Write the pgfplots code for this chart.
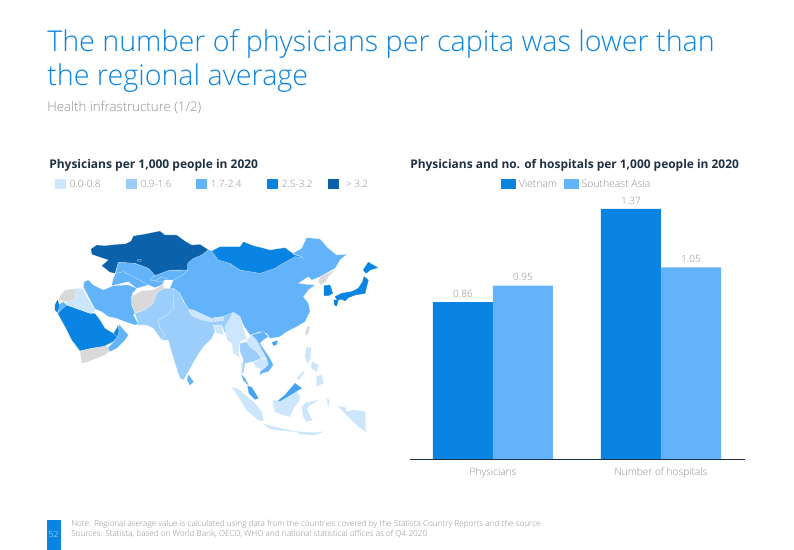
\documentclass[border=0pt]{standalone}
\usepackage{pgfplots}
\pgfplotsset{compat=1.18}
\usepackage{fontspec}
\setmainfont{Open Sans}
\newfontfamily\osl{Open Sans Light}
\definecolor{cA}{HTML}{CCE6FD}
\definecolor{cB}{HTML}{9CCEFC}
\definecolor{cC}{HTML}{62B3FA}
\definecolor{cD}{HTML}{0984E3}
\definecolor{cE}{HTML}{0B62AB}
\definecolor{cG}{HTML}{D9D9D9}
\colorlet{cF}{cC!65!cD}
\definecolor{txt}{HTML}{8E8E8E}
\definecolor{head}{HTML}{1F3044}
\newcommand{\reg}[2]{\addplot[fill=#1,draw=white,draw opacity=.6,line width=.15pt,line join=round,no markers] coordinates {#2} -- cycle;}
\newcommand{\isl}[2]{\addplot[fill=#1,draw=#1,line width=.2pt,line join=round,no markers] coordinates {#2} -- cycle;}
\newcommand{\bord}[1]{\addplot[draw=white,draw opacity=.7,line width=.25pt,no markers] coordinates {#1};}
\newcommand{\px}[2]{({(#1)*0.75pt},{(550-(#2))*0.75pt})}
\begin{document}
\begin{tikzpicture}[x=1pt,y=1pt]
\path (0,0) rectangle (595.5pt,412.5pt);
% titles
\node[anchor=base west,inner sep=0,text=cD,font=\osl\fontsize{21.5}{28}\selectfont] at \px{47}{52} {The number of physicians per capita was lower than};
\node[anchor=base west,inner sep=0,text=cD,font=\osl\fontsize{21.5}{28}\selectfont] at \px{47}{86} {the regional average};
\node[anchor=base west,inner sep=0,text=txt,font=\osl\fontsize{9.95}{12}\selectfont] at \px{47}{112} {Health infrastructure (1/2)};
\node[anchor=base west,inner sep=0,text=head,font=\bfseries\fontsize{9}{10}\selectfont] at \px{49}{169} {Physicians per 1,000 people in 2020};
\node[anchor=base west,inner sep=0,text=head,font=\bfseries\fontsize{8.95}{10}\selectfont] at \px{410}{169} {Physicians and no. of hospitals per 1,000 people in 2020};
% map legend
\foreach \x/\c/\t in {55/cA/0.0-0.8, 126/cB/0.9-1.6, 196/cC/1.7-2.4, 267/cD/2.5-3.2, 328/cE/{\,\,> 3.2}}{
  \fill[\c] \px{\x}{179} rectangle \px{\x+11}{189};
  \node[anchor=base west,inner sep=0,text=txt,font=\osl\fontsize{7.5}{9}\selectfont] at \px{\x+14.5}{188} {\t};
}
% footer
\fill[cD] \px{47}{520} rectangle \px{61}{550};
\node[text=white!80!cD,inner sep=0,font=\osl\fontsize{6.4}{8}\selectfont] at \px{53.5}{534} {52};
\node[anchor=base west,inner sep=0,text=txt,font=\osl\fontsize{6.15}{8}\selectfont] at \px{71}{527} {Note: Regional average value is calculated using data from the countries covered by the Statista Country Reports and the source};
\node[anchor=base west,inner sep=0,text=txt,font=\osl\fontsize{6.15}{8}\selectfont] at \px{71}{537} {Sources: Statista, based on World Bank, OECD, WHO and national statistical offices as of Q4 2020};
% map: coordinates in a 1050 x 870 frame
\begin{axis}[at={(30pt,82.5pt)},anchor=south west,scale only axis,width=262.5pt,height=217.5pt,
  xmin=0,xmax=1050,ymin=0,ymax=870,y dir=reverse,axis lines=none,clip=false]
% China
\reg{cC}{(505,299)(485,315)(460,325)(443,340)(443,360)(435,370)(400,390)(390,415)(420,430)(435,460)(445,475)(485,495)(520,510)(550,500)(580,487)(600,500)(610,525)(630,555)(660,545)(680,550)(690,565)(720,560)(740,545)(770,530)(795,515)(810,485)(805,460)(790,440)(805,420)(825,405)(800,403)(775,400)(805,380)(815,390)(840,380)(885,355)(900,330)(920,313)(890,315)(865,295)(840,267)(800,263)(785,295)(758,310)(790,322)(765,320)(720,345)(705,355)(660,370)(600,360)(570,340)(535,330)(515,303)}
% Kazakhstan
\reg{cE}{(153,297)(170,285)(195,287)(230,283)(255,282)(273,273)(280,258)(315,252)(360,243)(375,255)(410,255)(435,273)(455,285)(480,283)(505,299)(485,315)(460,325)(443,340)(443,360)(410,360)(385,362)(345,377)(325,355)(285,340)(235,337)(225,370)(210,367)(185,347)(205,330)(175,320)(155,313)}
\bord{(294,328)(302,328)(304,331)(302,334)(294,334)(292,331)(294,328)}
% Mongolia
\reg{cD}{(515,303)(540,290)(600,290)(610,275)(640,287)(665,293)(690,300)(735,293)(758,310)(760,313)(790,322)(765,320)(720,345)(705,355)(660,370)(600,360)(570,340)(535,330)}
% Central Asia
\reg{cC}{(235,337)(285,340)(325,355)(345,377)(385,362)(443,360)(435,370)(400,390)(375,390)(365,405)(345,413)(325,405)(290,415)(265,395)(215,407)(220,385)(227,370)}
\bord{(230,370)(250,365)(280,380)(325,405)}
\bord{(345,377)(330,390)(345,393)(365,380)(385,388)}
\bord{(345,393)(365,395)(375,390)}
% Iran
\reg{cC}{(133,395)(145,390)(160,405)(190,420)(220,407)(265,405)(290,415)(277,430)(275,465)(285,490)(280,495)(295,522)(285,525)(255,515)(230,505)(205,500)(185,485)(165,477)(145,440)(130,410)}
% Afghanistan
\reg{cG}{(273,440)(305,422)(340,420)(370,403)(372,415)(350,430)(340,460)(315,480)(285,490)(277,470)}
% Pakistan
\reg{cB}{(285,490)(315,480)(340,460)(350,430)(372,415)(400,415)(420,430)(400,450)(400,475)(380,495)(355,510)(360,535)(375,555)(365,570)(340,535)(320,525)(290,525)(295,520)}
% India
\reg{cB}{(400,415)(420,430)(430,455)(445,475)(475,495)(510,510)(515,505)(545,500)(575,490)(590,492)(570,525)(555,550)(545,525)(520,525)(525,545)(515,565)(490,590)(470,620)(445,665)(430,690)(420,685)(405,640)(390,590)(385,570)(365,570)(375,555)(360,535)(355,510)(380,495)(400,475)(400,450)}
% Nepal, Bhutan, Bangladesh
\reg{cA}{(445,480)(460,480)(515,505)(520,517)(485,510)(455,497)}
\reg{cA}{(520,503)(550,500)(550,512)(522,515)}
\reg{cA}{(520,525)(545,525)(550,555)(530,550)}
% Myanmar
\reg{cA}{(555,530)(580,487)(600,500)(610,535)(620,565)(600,575)(595,610)(610,645)(605,670)(602,625)(580,610)(575,580)(560,570)}
% Thailand, Laos, Cambodia, Vietnam
\reg{cB}{(600,580)(620,575)(630,590)(650,605)(665,625)(640,635)(615,640)(610,670)(605,670)(610,630)(600,605)}
\reg{cA}{(620,570)(635,555)(650,570)(675,610)(680,625)(665,625)(650,605)(630,590)}
\reg{cA}{(640,635)(665,625)(680,628)(685,645)(665,658)(645,650)}
\reg{cC}{(635,555)(670,545)(685,560)(670,570)(660,580)(690,625)(700,645)(685,665)(665,670)(662,680)(660,665)(685,645)(680,625)(650,570)}
% peninsula
\isl{cC}{(605,675)(615,685)(625,705)(610,690)}
\isl{cF}{(623,708)(635,712)(655,745)(645,748)(627,730)}
% islands
\isl{cC}{(445,675)(460,695)(450,705)(442,690)}
\isl{cF}{(697,577)(712,572)(710,583)(700,587)}
\isl{cG}{(802,530)(810,530)(802,555)(796,550)}
% Saudi Arabia and the Gulf
\reg{cD}{(53,490)(70,470)(80,465)(150,490)(165,490)(180,510)(195,535)(220,550)(233,560)(220,575)(190,590)(155,595)(120,603)(95,570)(75,530)}
\reg{cD}{(220,550)(230,535)(235,523)(237,545)(233,560)}
\reg{cC}{(237,523)(265,555)(255,570)(230,595)(210,605)(202,595)(220,577)(233,560)(237,545)}
\reg{cG}{(120,603)(155,595)(202,587)(207,605)(195,615)(145,635)(125,640)}
\reg{cA}{(103,435)(110,415)(130,417)(140,440)(165,480)(163,487)(150,490)(80,465)(75,455)(103,450)}
\reg{cG}{(60,437)(75,420)(110,415)(103,450)(75,455)(55,450)}
\reg{cC}{(55,465)(70,455)(80,465)(55,487)}
\isl{cD}{(45,465)(53,450)(57,465)(53,487)(45,480)}
% Korea, Japan
\reg{cG}{(840,380)(885,360)(865,380)(858,395)(842,405)(835,395)}
\isl{cD}{(852,407)(870,405)(878,430)(865,437)(852,437)}
\isl{cD}{(985,337)(1013,353)(990,360)(978,370)(970,360)}
\isl{cD}{(972,380)(985,390)(975,430)(945,435)(920,445)(892,450)(885,440)(905,430)(935,425)(955,415)(968,395)}
\isl{cD}{(882,450)(895,450)(890,468)(883,465)}
\isl{cD}{(905,447)(925,443)(915,453)}
% Indonesia, Malaysia, Philippines
\isl{cA}{(577,712)(595,718)(640,755)(665,785)(670,812)(655,810)(620,780)(595,740)}
\isl{cA}{(670,822)(700,830)(745,840)(770,845)(730,842)(690,837)}
\isl{cA}{(770,845)(825,848)(850,845)(825,855)(780,852)}
\isl{cA}{(698,752)(715,752)(770,725)(780,740)(775,755)(760,775)(750,800)(730,795)(705,785)}
\isl{cF}{(715,752)(735,735)(765,700)(785,715)(770,723)(750,735)(720,753)}
\isl{cA}{(785,770)(800,758)(835,750)(810,765)(800,775)(815,810)(800,815)(790,800)}
\isl{cA}{(895,770)(915,772)(920,785)(940,780)(975,785)(977,845)(950,825)(925,800)}
\isl{cA}{(800,590)(813,595)(810,630)(802,640)(795,620)}
\isl{cA}{(830,680)(845,675)(850,700)(830,708)}
\isl{cA}{(815,635)(835,645)(830,665)(815,655)}
\isl{cA}{(770,685)(790,665)(793,668)(775,690)}
\isl{cA}{(860,745)(868,750)(865,770)}
\end{axis}
% bars
\begin{axis}[at={(307.5pt,68.25pt)},anchor=south west,scale only axis,width=251.25pt,height=187.5pt,
  xmin=-0.494,xmax=1.5,ymin=0,ymax=1.37,clip=false,
  ybar=0pt,bar width=45pt,
  axis y line=none,axis x line=bottom,axis line style={-,color=head,line width=.5pt},
  xtick={0,1},xticklabels={Physicians,Number of hospitals},xtick style={draw=none},
  ticklabel style={text=txt,font=\osl\fontsize{7.6}{9}\selectfont},
  xticklabel style={yshift=-1pt},
  nodes near coords,nodes near coords style={text=txt,font=\osl\fontsize{7.5}{9}\selectfont,/pgf/number format/.cd,fixed,fixed zerofill,precision=2,assume math mode=true},
  legend style={at={(0.4985,1.096)},anchor=center,draw=none,fill=none,legend columns=2,font=\osl\fontsize{7.8}{9}\selectfont,text=txt,
    /tikz/every even column/.append style={column sep=3pt}},
  legend image code/.code={\fill[#1] (0cm,-0.11cm) rectangle (0.4cm,0.15cm);},
  ]
\addplot[fill=cD,draw=none] coordinates {(0,0.86)(1,1.37)};
\addplot[fill=cC,draw=none] coordinates {(0,0.95)(1,1.05)};
\legend{Vietnam,Southeast Asia}
\end{axis}
\end{tikzpicture}
\end{document}
